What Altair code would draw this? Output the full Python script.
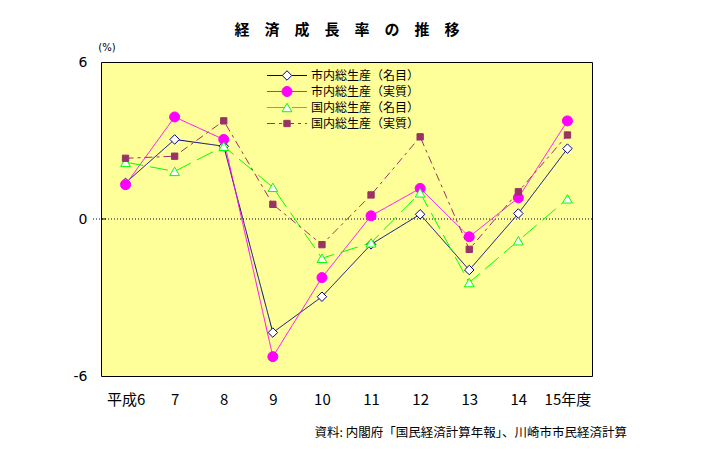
import altair as alt
import pandas as pd

categories = ["平成6", "7", "8", "9", "10", "11", "12", "13", "14", "15年度"]
series_names = ["市内総生産（名目）", "市内総生産（実質）", "国内総生産（名目）", "国内総生産（実質）"]
city_nominal = [1.38, 3.04, 2.78, -4.34, -2.97, -0.97, 0.18, -1.95, 0.21, 2.69]
city_real = [1.31, 3.90, 3.04, -5.26, -2.24, 0.12, 1.17, -0.68, 0.81, 3.75]
nation_nominal = [2.17, 1.82, 2.78, 1.21, -1.50, -0.91, 1.00, -2.43, -0.83, 0.77]
nation_real = [2.32, 2.40, 3.75, 0.56, -0.98, 0.92, 3.14, -1.16, 1.04, 3.21]
y_ticks = [-6, 0, 6]

title_text = "経　済　成　長　率　の　推　移"
unit_text = "(%)"
source_text = "資料: 内閣府「国民経済計算年報」、川崎市市民経済計算"

FONT = "Noto Sans CJK JP"
W, H = 491, 314

styles = [
    dict(color="#000080", shape="diamond", fill="white", size=90, dash=[1, 0]),
    dict(color="#FF00FF", shape="circle", fill="#FF00FF", size=100, dash=[1, 0]),
    dict(color="#00FF00", shape="triangle-up", fill="white", size=95, dash=[18, 7]),
    dict(color="#993366", shape="square", fill="#993366", size=40, dash=[8, 4, 3, 4]),
]
values = [city_nominal, city_real, nation_nominal, nation_real]

xenc = alt.X("cat:N", sort=categories,
             scale=alt.Scale(domain=categories, type="point", padding=0.5),
             axis=alt.Axis(title=None, ticks=False, domain=False, labelAngle=0,
                           labelFontSize=15, labelFont=FONT, labelColor="black",
                           labelPadding=16))
yenc = alt.Y("val:Q", scale=alt.Scale(domain=[-6, 6], nice=False, zero=False),
             axis=alt.Axis(title=None, values=y_ticks, grid=False, ticks=False,
                           domain=False, labelFontSize=14, labelFont="DejaVu Sans",
                           labelColor="black", labelPadding=14,
                           labelExpr="replace(datum.label, '−', '-')"))

layers = []

# zero dotted line
zero_df = pd.DataFrame({"val": [0]})
layers.append(alt.Chart(zero_df).mark_rule(color="#000033", strokeDash=[1, 2], strokeWidth=1).encode(
    y=alt.Y("val:Q", scale=alt.Scale(domain=[-6, 6], nice=False, zero=False)),
    x=alt.value(-8), x2=alt.value(W)))
layers.append(alt.Chart(zero_df).mark_rule(color="black", strokeWidth=1).encode(
    y=alt.Y("val:Q", scale=alt.Scale(domain=[-6, 6], nice=False, zero=False)),
    x=alt.value(0), x2=alt.value(5)))

legend_rows = [13.5, 29.5, 45.5, 61.5]
for name, vals, st, ly in zip(series_names, values, styles, legend_rows):
    df = pd.DataFrame({"cat": categories, "val": vals, "series": name})
    base = alt.Chart(df)
    layers.append(base.mark_line(color=st["color"], strokeWidth=1, strokeDash=st["dash"]).encode(
        x=xenc, y=yenc, order=alt.Order("idx:Q")).transform_window(idx="row_number()"))
    layers.append(base.mark_point(shape=st["shape"], filled=True, fill=st["fill"], stroke=st["color"],
                                  strokeWidth=1, size=st["size"], opacity=1).encode(x=xenc, y=yenc))
    ldf = pd.DataFrame({"series": [name]})
    lb = alt.Chart(ldf)
    layers.append(lb.mark_rule(color=st["color"], strokeWidth=1, strokeDash=st["dash"]).encode(
        x=alt.value(166), x2=alt.value(206), y=alt.value(ly)))
    layers.append(lb.mark_point(shape=st["shape"], filled=True, fill=st["fill"], stroke=st["color"],
                                strokeWidth=1, size=st["size"], opacity=1).encode(
        x=alt.value(186), y=alt.value(ly)))
    layers.append(lb.mark_text(align="left", baseline="middle", font=FONT, fontSize=12, color="black").encode(
        x=alt.value(210), y=alt.value(ly), text="series:N"))

txt_df = pd.DataFrame({"t": [title_text]})
layers.append(alt.Chart(txt_df).mark_text(align="center", baseline="middle", font=FONT, fontSize=15,
                                           fontWeight="bold", color="black").encode(
    x=alt.value(246), y=alt.value(-32), text="t:N"))
unit_df = pd.DataFrame({"t": [unit_text]})
layers.append(alt.Chart(unit_df).mark_text(align="center", baseline="middle", font="DejaVu Sans", fontSize=10,
                                            color="black").encode(
    x=alt.value(6), y=alt.value(-14), text="t:N"))
src_df = pd.DataFrame({"t": [source_text]})
layers.append(alt.Chart(src_df).mark_text(align="right", baseline="middle", font=FONT, fontSize=12.5,
                                           color="black").encode(
    x=alt.value(526), y=alt.value(371), text="t:N"))

chart = alt.layer(*layers).properties(
    width=W, height=H,
    autosize=alt.AutoSizeParams(type="none"),
    padding={"left": 93, "top": 54, "right": 110, "bottom": 67},
    background="white",
).configure_view(fill="#FFFF99", stroke="black", strokeWidth=1)

chart.save("out.html", embed_options={"renderer": "svg", "actions": False})
